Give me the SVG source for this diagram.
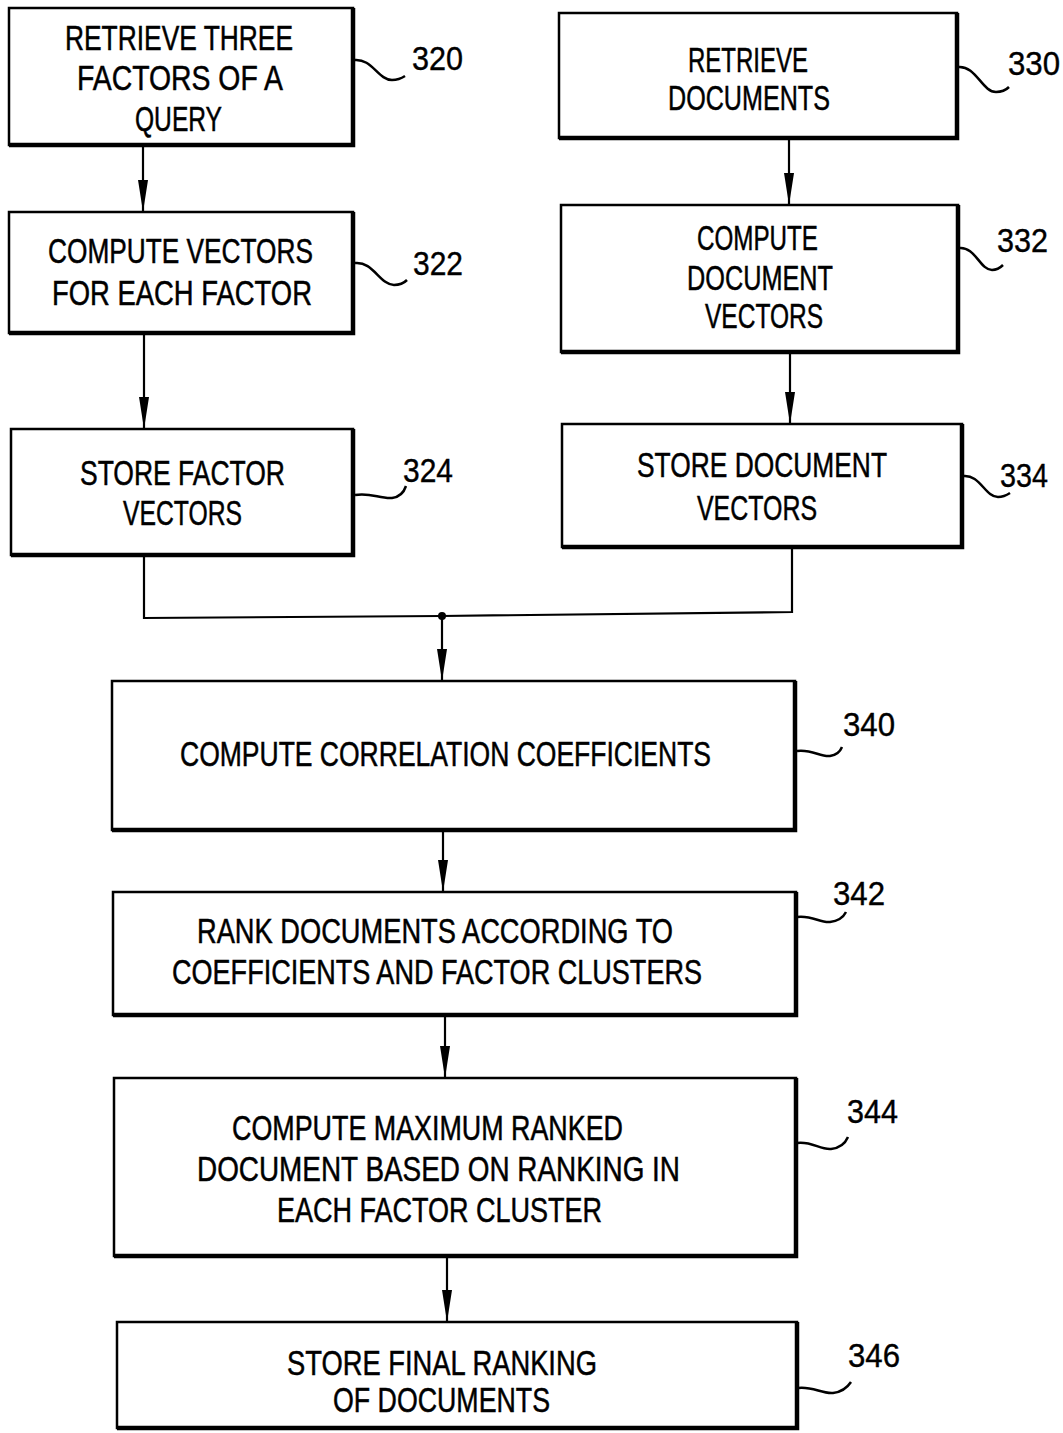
<svg xmlns="http://www.w3.org/2000/svg" width="1063" height="1433" viewBox="0 0 1063 1433">
<style>
.box{fill:#fff;stroke:#000;stroke-width:2.5}
.heavy{fill:none;stroke:#000;stroke-width:4.5}
.t{font-family:"Liberation Sans",Arial,sans-serif;font-size:35px;fill:#000;stroke:#000;stroke-width:0.5}
.n{font-family:"Liberation Sans",Arial,sans-serif;font-size:34px;fill:#000;stroke:#000;stroke-width:0.4}
.lead{fill:none;stroke:#000;stroke-width:2.5}
.conn{fill:none;stroke:#000;stroke-width:2.2}
</style>
<defs>
<marker id="arr" viewBox="0 0 32 10" refX="32" refY="5" markerWidth="32" markerHeight="10" markerUnits="userSpaceOnUse" orient="auto">
<path d="M0,0 L32,5 L0,10 Z" fill="#000"/>
</marker>
</defs>
<rect width="1063" height="1433" fill="#fff"/>

<g id="n320">
<rect class="box" x="9" y="8" width="344" height="137"/>
<path class="heavy" d="M353,8 L353,145 L9,145"/>
<text class="t" x="65" y="50" textLength="228" lengthAdjust="spacingAndGlyphs">RETRIEVE THREE</text>
<text class="t" x="77" y="90" textLength="206" lengthAdjust="spacingAndGlyphs">FACTORS OF A</text>
<text class="t" x="135" y="131" textLength="87" lengthAdjust="spacingAndGlyphs">QUERY</text>
<path class="lead" d="M354,60 C372,58 378,80 392,80 C398,80 402,78 405,76"/>
<text class="n" x="412" y="70" textLength="51" lengthAdjust="spacingAndGlyphs">320</text>
</g>

<g id="n322">
<rect class="box" x="9" y="212" width="344" height="121"/>
<path class="heavy" d="M353,212 L353,333 L9,333"/>
<text class="t" x="48" y="263" textLength="265" lengthAdjust="spacingAndGlyphs">COMPUTE VECTORS</text>
<text class="t" x="52" y="305" textLength="260" lengthAdjust="spacingAndGlyphs">FOR EACH FACTOR</text>
<path class="lead" d="M355,263 C373,261 380,285 394,285 C400,285 404,283 407,280"/>
<text class="n" x="413" y="275" textLength="50" lengthAdjust="spacingAndGlyphs">322</text>
</g>

<g id="n324">
<rect class="box" x="11" y="429" width="342" height="126"/>
<path class="heavy" d="M353,429 L353,555 L11,555"/>
<text class="t" x="80" y="485" textLength="205" lengthAdjust="spacingAndGlyphs">STORE FACTOR</text>
<text class="t" x="123" y="525" textLength="119" lengthAdjust="spacingAndGlyphs">VECTORS</text>
<path class="lead" d="M355,495 C370,492 380,499 392,498 C400,497 404,492 406,486"/>
<text class="n" x="403" y="482" textLength="50" lengthAdjust="spacingAndGlyphs">324</text>
</g>

<g id="n330">
<rect class="box" x="559" y="13" width="398" height="125"/>
<path class="heavy" d="M957,13 L957,138 L559,138"/>
<text class="t" x="688" y="72" textLength="120" lengthAdjust="spacingAndGlyphs">RETRIEVE</text>
<text class="t" x="668" y="110" textLength="162" lengthAdjust="spacingAndGlyphs">DOCUMENTS</text>
<path class="lead" d="M958,67 C976,65 982,92 996,92 C1002,92 1006,90 1009,87"/>
<text class="n" x="1008" y="75" textLength="52" lengthAdjust="spacingAndGlyphs">330</text>
</g>

<g id="n332">
<rect class="box" x="561" y="205" width="397" height="147"/>
<path class="heavy" d="M958,205 L958,352 L561,352"/>
<text class="t" x="697" y="250" textLength="121" lengthAdjust="spacingAndGlyphs">COMPUTE</text>
<text class="t" x="687" y="290" textLength="146" lengthAdjust="spacingAndGlyphs">DOCUMENT</text>
<text class="t" x="705" y="328" textLength="118" lengthAdjust="spacingAndGlyphs">VECTORS</text>
<path class="lead" d="M959,248 C975,246 980,270 992,270 C997,270 1000,268 1003,265"/>
<text class="n" x="997" y="252" textLength="51" lengthAdjust="spacingAndGlyphs">332</text>
</g>

<g id="n334">
<rect class="box" x="562" y="424" width="400" height="123"/>
<path class="heavy" d="M962,424 L962,547 L562,547"/>
<text class="t" x="637" y="477" textLength="250" lengthAdjust="spacingAndGlyphs">STORE DOCUMENT</text>
<text class="t" x="697" y="520" textLength="120" lengthAdjust="spacingAndGlyphs">VECTORS</text>
<path class="lead" d="M963,476 C980,474 985,497 998,497 C1003,497 1007,495 1010,493"/>
<text class="n" x="1000" y="487" textLength="48" lengthAdjust="spacingAndGlyphs">334</text>
</g>

<g id="n340">
<rect class="box" x="112" y="681" width="683" height="149"/>
<path class="heavy" d="M795,681 L795,830 L112,830"/>
<text class="t" transform="translate(180,766) scale(0.75,1)" x="0" y="0" textLength="708" lengthAdjust="spacingAndGlyphs">COMPUTE CORRELATION COEFFICIENTS</text>
<path class="lead" d="M797,751 C812,749 820,757 830,756 C837,755 840,752 842,747"/>
<text class="n" x="843" y="736" textLength="52" lengthAdjust="spacingAndGlyphs">340</text>
</g>

<g id="n342">
<rect class="box" x="113" y="892" width="683" height="123"/>
<path class="heavy" d="M796,892 L796,1015 L113,1015"/>
<text class="t" x="197" y="943" textLength="476" lengthAdjust="spacingAndGlyphs">RANK DOCUMENTS ACCORDING TO</text>
<text class="t" x="172" y="984" textLength="530" lengthAdjust="spacingAndGlyphs">COEFFICIENTS AND FACTOR CLUSTERS</text>
<path class="lead" d="M797,917 C812,915 820,923 830,922 C838,921 843,918 846,912"/>
<text class="n" x="833" y="905" textLength="52" lengthAdjust="spacingAndGlyphs">342</text>
</g>

<g id="n344">
<rect class="box" x="114" y="1078" width="682" height="178"/>
<path class="heavy" d="M796,1078 L796,1256 L114,1256"/>
<text class="t" x="232" y="1140" textLength="391" lengthAdjust="spacingAndGlyphs">COMPUTE MAXIMUM RANKED</text>
<text class="t" x="197" y="1181" textLength="483" lengthAdjust="spacingAndGlyphs">DOCUMENT BASED ON RANKING IN</text>
<text class="t" x="277" y="1222" textLength="325" lengthAdjust="spacingAndGlyphs">EACH FACTOR CLUSTER</text>
<path class="lead" d="M797,1143 C812,1141 820,1150 831,1149 C840,1148 845,1144 848,1137"/>
<text class="n" x="847" y="1123" textLength="51" lengthAdjust="spacingAndGlyphs">344</text>
</g>

<g id="n346">
<rect class="box" x="117" y="1322" width="680" height="106"/>
<path class="heavy" d="M797,1322 L797,1428 L117,1428"/>
<text class="t" x="287" y="1375" textLength="310" lengthAdjust="spacingAndGlyphs">STORE FINAL RANKING</text>
<text class="t" x="333" y="1412" textLength="217" lengthAdjust="spacingAndGlyphs">OF DOCUMENTS</text>
<path class="lead" d="M798,1388 C812,1386 822,1394 833,1393 C842,1392 847,1388 851,1382"/>
<text class="n" x="848" y="1367" textLength="52" lengthAdjust="spacingAndGlyphs">346</text>
</g>

<g id="connectors">
<path class="conn" d="M143,147 L143,212" marker-end="url(#arr)"/>
<path class="conn" d="M789,140 L789,205" marker-end="url(#arr)"/>
<path class="conn" d="M144,335 L144,429" marker-end="url(#arr)"/>
<path class="conn" d="M790,354 L790,424" marker-end="url(#arr)"/>
<path class="conn" d="M144,557 L144,618 L442,616 L792,612 L792,549"/>
<circle cx="442" cy="616" r="4" fill="#000"/>
<path class="conn" d="M442,616 L442,681" marker-end="url(#arr)"/>
<path class="conn" d="M443,832 L443,892" marker-end="url(#arr)"/>
<path class="conn" d="M445,1017 L445,1078" marker-end="url(#arr)"/>
<path class="conn" d="M447,1258 L447,1322" marker-end="url(#arr)"/>
</g>
</svg>
